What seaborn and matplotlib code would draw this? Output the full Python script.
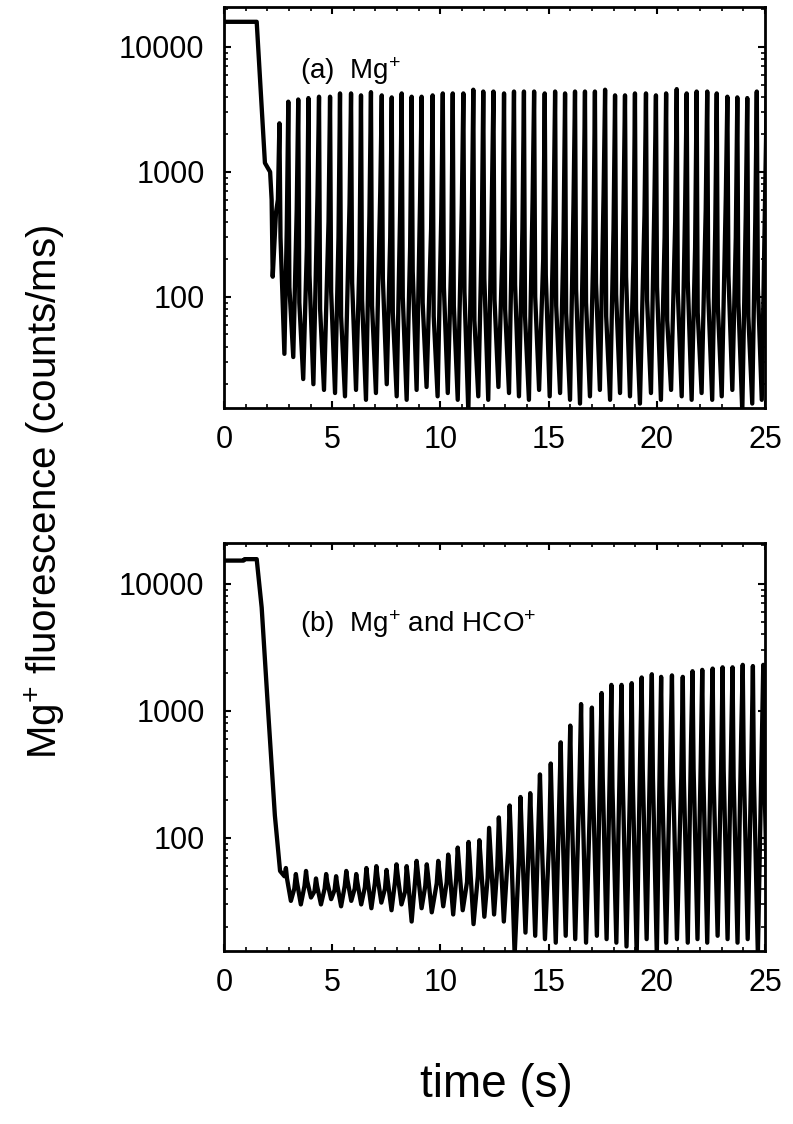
import matplotlib
matplotlib.use('Agg')

import numpy as np
import pandas as pd
import matplotlib.pyplot as plt
from matplotlib.ticker import FixedLocator, LogLocator, NullFormatter, FuncFormatter
import seaborn as sns

# --- data (time in s, fluorescence in counts/ms) ---
# panel (a): Mg+ only
a_lead_t = [0.0, 1.51, 1.89, 2.13, 2.20, 2.25, 2.40]
a_lead_v = [15900, 15900, 1180, 1000, 600, 145, 470]
a_peak_t = [2.56, 2.97, 3.43, 3.90, 4.39, 4.90, 5.36, 5.87, 6.33, 6.79,
            7.29, 7.75, 8.21, 8.67, 9.13, 9.64, 10.11, 10.57, 11.06, 11.52,
            11.98, 12.45, 12.94, 13.40, 13.86, 14.33, 14.82, 15.30, 15.76, 16.22,
            16.68, 17.14, 17.61, 18.07, 18.53, 18.99, 19.50, 19.96, 20.43, 20.92,
            21.38, 21.84, 22.33, 22.77, 23.26, 23.72, 24.18, 24.62]
a_peak = [2450, 3650, 3800, 3900, 4000, 4000, 4250, 4250, 4100, 4350,
          4100, 3950, 4250, 4000, 4000, 4100, 4250, 4250, 4250, 4550,
          4400, 4400, 4250, 4400, 4400, 4400, 4250, 4400, 4250, 4400,
          4400, 4400, 4550, 4100, 4100, 4250, 4250, 4100, 4250, 4600,
          4250, 4400, 4400, 4250, 4000, 3950, 3900, 4400]
a_rise = [600, 350, 500, 250, 650, 400, 300, 550, 200, 450,
          700, 300, 500, 250, 600, 350, 450, 200, 550, 400,
          300, 650, 250, 500, 350, 600, 200, 450, 300, 550,
          400, 250, 650, 350, 500, 200, 450, 600, 300, 400,
          550, 250, 500, 350, 650, 300, 450, 400]
a_fall = [300, 120, 90, 150, 80, 110, 70, 130, 95, 85,
          140, 75, 100, 160, 90, 70, 120, 85, 110, 65,
          140, 95, 80, 125, 70, 100, 150, 85, 75, 115,
          90, 130, 70, 105, 145, 80, 95, 120, 65, 110,
          135, 75, 100, 85, 150, 90, 70, 120]
a_trough = [35, 33, 22, 20, 18, 17, 16, 18, 15, 17,
            20, 16, 15, 18, 19, 16, 17, 15, 12, 16,
            15, 19, 17, 16, 15, 18, 16, 17, 15, 14,
            16, 18, 15, 17, 16, 14, 17, 15, 18, 16,
            15, 17, 15, 16, 18, 12, 14, 15]
a_tail_t = [25.08]
a_tail_v = [4000]

# panel (b): Mg+ and HCO+
b_lead_t = [0.0, 0.90, 0.95, 1.51, 1.74, 2.05, 2.35, 2.59]
b_lead_v = [15200, 15200, 15600, 15600, 6500, 930, 150, 55]
b_peak_t = [2.86, 3.32, 3.79, 4.25, 4.72, 5.18, 5.65, 6.11, 6.58, 7.04,
            7.51, 7.97, 8.44, 8.90, 9.37, 9.90, 10.36, 10.80, 11.30, 11.80,
            12.25, 12.70, 13.20, 13.70, 14.15, 14.60, 15.10, 15.56, 16.00, 16.50,
            17.00, 17.45, 17.90, 18.37, 18.84, 19.30, 19.77, 20.20, 20.70, 21.20,
            21.65, 22.10, 22.58, 23.04, 23.50, 23.97, 24.44, 24.92]
b_peak = [58, 52, 55, 48, 52, 50, 55, 52, 58, 60,
          56, 62, 60, 66, 62, 66, 74, 84, 93, 96,
          120, 145, 180, 210, 225, 316, 385, 565, 765, 1130,
          1060, 1380, 1600, 1600, 1650, 1830, 1940, 1850, 1900, 1850,
          2050, 2100, 2150, 2200, 2200, 2300, 2250, 2300]
b_rise = [50, 40, 42, 38, 40, 39, 42, 40, 41, 44,
          40, 45, 38, 46, 42, 44, 45, 48, 45, 50,
          48, 60, 80, 70, 90, 120, 100, 180, 220, 300,
          250, 400, 350, 500, 300, 450, 600, 350, 500, 300,
          550, 400, 600, 350, 500, 650, 400, 500]
b_fall = [48, 45, 46, 42, 45, 43, 47, 45, 48, 50,
          47, 52, 50, 55, 52, 55, 60, 65, 70, 72,
          85, 95, 110, 120, 130, 150, 170, 200, 230, 280,
          260, 300, 250, 320, 280, 350, 300, 260, 330, 290,
          350, 310, 270, 340, 300, 360, 280, 300]
b_trough = [32, 30, 34, 30, 33, 29, 32, 30, 28, 31,
            27, 30, 22, 28, 26, 29, 25, 27, 21, 24,
            25, 22, 12, 18, 17, 16, 15, 17, 16, 15,
            17, 16, 15, 14, 12, 16, 12, 15, 16, 15,
            16, 15, 17, 16, 15, 16, 12, 15]
b_tail_t = []
b_tail_v = []

panel_labels = ['(a)  Mg$^{+}$', '(b)  Mg$^{+}$ and HCO$^{+}$']

DT_RISE = 0.07   # sample on the rising edge, before a spike
DT_FALL = 0.05   # sample on the falling edge, after a spike
DTR = 0.23       # trough position after a spike


def build_trace(lead_t, lead_v, peak_t, peak, rise, fall, trough, tail_t, tail_v):
    t, v = list(lead_t), list(lead_v)
    for tp, pv, rv, fv, tv in zip(peak_t, peak, rise, fall, trough):
        t += [tp - DT_RISE, tp, tp + DT_FALL, tp + DTR]
        v += [rv, pv, fv, tv]
    t += list(tail_t)
    v += list(tail_v)
    return pd.DataFrame({'time': t, 'signal': v})


df_a = build_trace(a_lead_t, a_lead_v, a_peak_t, a_peak, a_rise, a_fall, a_trough, a_tail_t, a_tail_v)
df_b = build_trace(b_lead_t, b_lead_v, b_peak_t, b_peak, b_rise, b_fall, b_trough, b_tail_t, b_tail_v)

sns.set_theme(style='ticks')
plt.rcParams['font.family'] = ['Liberation Sans', 'DejaVu Sans']
plt.rcParams['mathtext.fontset'] = 'custom'
plt.rcParams['mathtext.rm'] = 'Liberation Sans'
plt.rcParams['mathtext.it'] = 'Liberation Sans'

fig = plt.figure(figsize=(7.93, 11.24), dpi=100)
ax_a = fig.add_axes([0.2825, 0.6370, 0.6822, 0.3568])
ax_b = fig.add_axes([0.2825, 0.1539, 0.6822, 0.3630])

for ax, df, label, ly in [(ax_a, df_a, panel_labels[0], 0.84),
                          (ax_b, df_b, panel_labels[1], 0.80)]:
    sns.lineplot(data=df, x='time', y='signal', ax=ax, color='black',
                 linewidth=3.1, estimator=None, sort=False)
    ax.set_yscale('log')
    ax.set_xlim(0, 25)
    ax.set_ylim(12.9, 20900)
    ax.xaxis.set_major_locator(FixedLocator([0, 5, 10, 15, 20, 25]))
    ax.xaxis.set_minor_locator(FixedLocator(np.arange(0, 26, 1)))
    ax.yaxis.set_major_locator(FixedLocator([100, 1000, 10000]))
    ax.yaxis.set_minor_locator(LogLocator(base=10, subs=np.arange(2, 10), numticks=20))
    ax.yaxis.set_major_formatter(FuncFormatter(lambda y, p: f'{int(y)}'))
    ax.yaxis.set_minor_formatter(NullFormatter())
    ax.tick_params(which='both', direction='in', top=True, right=True,
                   labelsize=22, color='black', labelcolor='black')
    ax.tick_params(which='major', length=5, width=1.5)
    ax.tick_params(which='minor', length=3, width=1.2)
    ax.tick_params(axis='x', pad=12)
    ax.tick_params(axis='y', pad=14)
    for s in ax.spines.values():
        s.set_linewidth(2.0)
        s.set_color('black')
    ax.set_xlabel('')
    ax.set_ylabel('')
    ax.text(0.14, ly, label, transform=ax.transAxes, fontsize=20,
            ha='left', va='center', color='black')

fig.text(0.057, 1 - 492 / 1124, 'Mg$^{+}$ fluorescence (counts/ms)', rotation=90,
         fontsize=29, ha='center', va='center', color='black')
fig.text(496 / 793, 1 - 1085 / 1124, 'time (s)', fontsize=33,
         ha='center', va='center', color='black')

fig.savefig('out.png', dpi=100, facecolor='white')
